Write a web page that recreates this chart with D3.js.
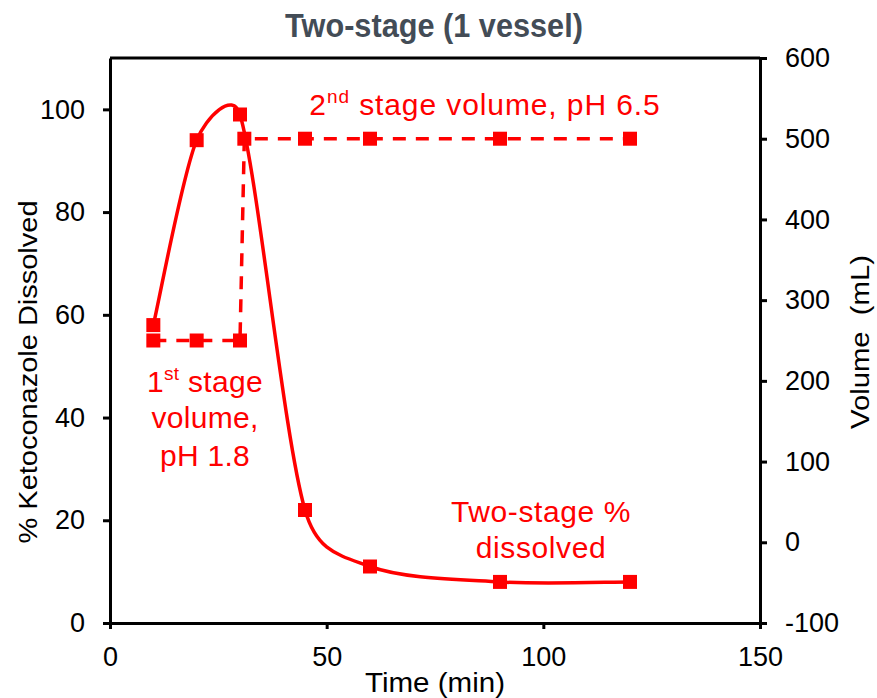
<!DOCTYPE html>
<html>
<head>
<meta charset="utf-8">
<script src="https://cdn.jsdelivr.net/npm/d3@7"></script>
<style>
  html, body { margin: 0; padding: 0; background: #fff; }
  svg { display: block; }
  text { font-family: "Liberation Sans", Arial, sans-serif; }
</style>
</head>
<body>
<svg id="chart" width="877" height="698"></svg>
<script>
// Percent of ketoconazole dissolved over time (two-stage, single vessel)
const dissolvedTime = [10, 20, 30, 45, 60, 90, 120];
const dissolvedPct  = [58, 94, 99, 22, 11, 8, 8];

// Vessel volume (mL): first stage at pH 1.8, then second stage at pH 6.5
const volumeTime = [10, 20, 30, 31, 45, 60, 90, 120];
const volumeMl   = [250, 250, 250, 500, 500, 500, 500, 500];

// Axis ticks
const xTicks      = [0, 50, 100, 150];
const leftTicks   = [0, 20, 40, 60, 80, 100];
const rightTicks  = [-100, 0, 100, 200, 300, 400, 500, 600];

const RED = "#ff0000";
const svg = d3.select("#chart");
const m = { left: 110, right: 760, top: 58, bottom: 623 };

const x  = d3.scaleLinear().domain([0, 150]).range([m.left, m.right]);
const yL = d3.scaleLinear().domain([0, 110]).range([m.bottom, m.top]);
const yR = d3.scaleLinear().domain([-100, 600]).range([m.bottom, m.top]);

// Spreadsheet-style smoothed line: cubic Bezier segments whose control
// offsets are (next - prev)/6, capped at half the segment length.
function smoothPath(pts) {
  const p = d3.path();
  const dist = (a, b) => Math.hypot(b[0] - a[0], b[1] - a[1]);
  p.moveTo(pts[0][0], pts[0][1]);
  for (let i = 0; i < pts.length - 1; i++) {
    const p0 = pts[Math.max(i - 1, 0)], p1 = pts[i], p2 = pts[i + 1],
          p3 = pts[Math.min(i + 2, pts.length - 1)];
    const d12 = dist(p1, p2), d02 = dist(p0, p2), d13 = dist(p1, p3);
    const s1 = d02 > 0 ? Math.min(1 / 6, 0.5 * d12 / d02) : 0;
    const s2 = d13 > 0 ? Math.min(1 / 6, 0.5 * d12 / d13) : 0;
    p.bezierCurveTo(
      p1[0] + (p2[0] - p0[0]) * s1, p1[1] + (p2[1] - p0[1]) * s1,
      p2[0] - (p3[0] - p1[0]) * s2, p2[1] - (p3[1] - p1[1]) * s2,
      p2[0], p2[1]);
  }
  return p.toString();
}

// Title
svg.append("text")
  .attr("transform", "translate(434,37) scale(0.93,1)")
  .attr("text-anchor", "middle")
  .attr("font-size", 33)
  .attr("font-weight", "bold")
  .attr("fill", "#434c56")
  .text("Two-stage (1 vessel)");

// Top frame line
svg.append("line")
  .attr("x1", m.left).attr("x2", m.right)
  .attr("y1", m.top).attr("y2", m.top)
  .attr("stroke", "#000").attr("stroke-width", 3);

// Axes
function styleAxis(g) {
  g.select(".domain").attr("stroke", "#000").attr("stroke-width", 3);
  g.selectAll(".tick line").attr("stroke", "#000").attr("stroke-width", 3);
  g.selectAll(".tick text").attr("fill", "#000").attr("font-size", 27)
    .style("font-family", "'Liberation Sans', Arial, sans-serif");
}
const plain = d => String(d);

svg.append("g")
  .attr("transform", `translate(0,${m.bottom})`)
  .call(d3.axisBottom(x).tickValues(xTicks).tickFormat(plain).tickSize(6).tickSizeOuter(0).tickPadding(18))
  .call(styleAxis)
  .call(g => g.selectAll(".tick text").attr("dy", "0.71em"));

svg.append("g")
  .attr("transform", `translate(${m.left},0)`)
  .call(d3.axisLeft(yL).tickValues(leftTicks).tickFormat(plain).tickSize(7).tickSizeOuter(0).tickPadding(18))
  .call(styleAxis);

svg.append("g")
  .attr("transform", `translate(${m.right},0)`)
  .call(d3.axisRight(yR).tickValues(rightTicks).tickFormat(plain).tickSize(7).tickSizeOuter(0).tickPadding(18))
  .call(styleAxis);

// Axis titles
svg.append("text")
  .attr("x", (m.left + m.right) / 2).attr("y", 692)
  .attr("text-anchor", "middle").attr("font-size", 27)
  .attr("textLength", 140).attr("lengthAdjust", "spacingAndGlyphs")
  .text("Time (min)");

svg.append("text")
  .attr("transform", "translate(37,372) rotate(-90)")
  .attr("text-anchor", "middle").attr("font-size", 26)
  .attr("textLength", 343).attr("lengthAdjust", "spacingAndGlyphs")
  .text("% Ketoconazole Dissolved");

svg.append("text")
  .attr("transform", "translate(869,342) rotate(-90)")
  .attr("text-anchor", "middle").attr("font-size", 26)
  .attr("textLength", 174).attr("lengthAdjust", "spacingAndGlyphs")
  .attr("xml:space", "preserve")
  .text("Volume  (mL)");

// Volume series (dashed, right axis)
const volData = volumeTime.map((t, i) => [t, volumeMl[i]]);
svg.append("path")
  .datum(volData)
  .attr("fill", "none").attr("stroke", RED)
  .attr("stroke-width", 3.5).attr("stroke-dasharray", "13,10")
  .attr("d", d3.line().x(d => x(d[0])).y(d => yR(d[1])));

// Dissolved series (smoothed, left axis)
const pctData = dissolvedTime.map((t, i) => [t, dissolvedPct[i]]);
svg.append("path")
  .attr("fill", "none").attr("stroke", RED).attr("stroke-width", 3.5)
  .attr("d", smoothPath(pctData.map(d => [x(d[0]), yL(d[1])])));

// Markers
const S = 14;
svg.append("g").selectAll("rect").data(volData).join("rect")
  .attr("x", d => x(d[0]) - S / 2).attr("y", d => yR(d[1]) - S / 2)
  .attr("width", S).attr("height", S).attr("fill", RED);
svg.append("g").selectAll("rect").data(pctData).join("rect")
  .attr("x", d => x(d[0]) - S / 2).attr("y", d => yL(d[1]) - S / 2)
  .attr("width", S).attr("height", S).attr("fill", RED);

// Annotations
const ann = svg.append("g").attr("fill", RED).attr("font-size", 30);

function supLine(parent, xPos, yPos, anchor, pre, sup, post, spacing) {
  const t = parent.append("text").attr("x", xPos).attr("y", yPos)
    .attr("text-anchor", anchor).attr("letter-spacing", spacing || 0);
  t.append("tspan").text(pre);
  t.append("tspan").attr("font-size", 19).attr("dy", -12).text(sup);
  t.append("tspan").attr("dy", 12).text(post);
}

supLine(ann, 485, 115, "middle", "2", "nd", " stage volume, pH 6.5", 0.9);
supLine(ann, 205, 392, "middle", "1", "st", " stage", 0.3);
ann.append("text").attr("x", 205).attr("y", 428).attr("text-anchor", "middle")
  .attr("letter-spacing", 0.3).text("volume,");
ann.append("text").attr("x", 205).attr("y", 466).attr("text-anchor", "middle")
  .attr("letter-spacing", 0.3).text("pH 1.8");

ann.append("text").attr("x", 541).attr("y", 522).attr("text-anchor", "middle")
  .attr("letter-spacing", 0.6).text("Two-stage %");
ann.append("text").attr("x", 541).attr("y", 558).attr("text-anchor", "middle")
  .attr("letter-spacing", 0.6).text("dissolved");
</script>
</body>
</html>
